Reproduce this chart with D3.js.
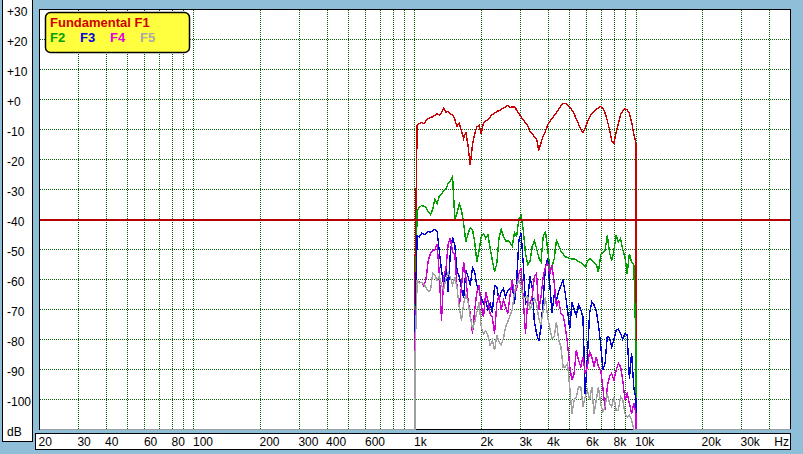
<!DOCTYPE html>
<html><head><meta charset="utf-8">
<script src="https://cdn.jsdelivr.net/npm/d3@7"></script>
<style>
html,body{margin:0;padding:0;background:#8ebed8;overflow:hidden;}
svg{display:block;}
.lab{font-family:"Liberation Sans Narrow","Arial Narrow","Liberation Sans",Arial,sans-serif;font-size:12px;fill:#000;}
.leg{font-family:"Liberation Sans",Arial,sans-serif;font-size:13px;font-weight:bold;}
</style></head><body>
<svg id="c" width="803" height="454"></svg>
<script>
// ---------- data ----------
const freqs=[1000,1023,1047,1072,1096,1122,1148,1175,1202,1230,
1259,1288,1318,1349,1380,1413,1445,1479,1514,1549,
1585,1622,1660,1698,1738,1778,1820,1862,1905,1950,
1995,2042,2089,2138,2188,2239,2291,2344,2399,2455,
2512,2570,2630,2692,2754,2818,2884,2951,3020,3090,
3162,3236,3311,3388,3467,3548,3631,3715,3802,3890,
3981,4074,4169,4266,4365,4467,4571,4677,4786,4898,
5012,5129,5248,5370,5495,5623,5754,5888,6026,6166,
6310,6457,6607,6761,6918,7079,7244,7413,7586,7762,
7943,8128,8318,8511,8710,8913,9120,9333,9550,9772,
10000];

const F1=[-56,-8.6,-8.0,-7.7,-8.0,-7.1,-6.4,-6.0,-5.8,-5.3,
-4.7,-5.1,-4.4,-2.9,-4.2,-4.0,-4.9,-4.9,-6.7,-8.9,
-8.0,-10.4,-13.0,-10.8,-15.5,-21.8,-15.0,-11.5,-9.2,-8.5,
-11.5,-7.7,-7.2,-6.6,-5.8,-5.0,-4.5,-4.0,-3.7,-3.3,
-2.9,-2.4,-2.0,-2.6,-2.5,-2.4,-3.5,-4.7,-5.8,-6.7,
-7.8,-8.8,-10.5,-11.3,-12.5,-13.0,-17.0,-14.5,-12.2,-10.6,
-8.7,-7.3,-6.3,-5.4,-4.3,-3.2,-2.2,-1.4,-1.3,-1.8,
-2.5,-3.5,-4.8,-6.5,-8.2,-10.0,-11.0,-9.5,-7.5,-5.9,
-4.7,-3.9,-3.3,-2.8,-2.3,-3.0,-4.5,-7.0,-10.0,-13.8,
-14.5,-11.0,-8.0,-5.0,-3.9,-3.0,-3.4,-4.7,-7.5,-11.5,
-14.7];

const F2=[-71.4,-36.9,-36.0,-35.3,-35.6,-36.0,-37.4,-38.3,-36.7,-33.3,
-34.7,-32.2,-31.6,-30.4,-29.7,-28.0,-27.1,-25.6,-40.2,-37.8,
-34.7,-36.9,-41.3,-47.4,-44.7,-42.7,-43.3,-47.4,-54.1,-50.2,
-45.6,-44.7,-46.3,-45.2,-49.7,-53.6,-57.4,-54.7,-46.3,-43.3,
-45.6,-47.1,-47.1,-47.8,-48.9,-44.4,-45.6,-39.7,-38.8,-43.6,
-51.3,-55.0,-54.1,-49.1,-47.1,-49.7,-52.7,-54.1,-45.8,-43.9,
-49.7,-56.3,-55.8,-53.0,-46.9,-48.6,-50.5,-51.5,-52.5,-52.6,
-53.0,-53.2,-53.1,-53.5,-54.0,-54.3,-55.0,-55.9,-54.0,-53.1,
-53.5,-54.5,-55.0,-57.6,-52.0,-51.0,-50.3,-45.3,-51.0,-53.7,
-50.3,-45.3,-47.5,-46.4,-50.0,-52.5,-58.1,-51.4,-54.2,-55.0,
-83];

const F3=[-72.6,-45.5,-45.8,-44.5,-45.0,-44.8,-44.0,-44.2,-43.8,-43.3,
-44.0,-50.5,-57.0,-62.0,-56.0,-64.0,-51.0,-46.0,-48.5,-57.0,
-59.0,-63.0,-66.0,-57.0,-59.0,-62.0,-56.0,-57.5,-62.0,-63.5,
-66.0,-68.0,-67.0,-70.0,-68.0,-71.0,-62.0,-62.4,-66.9,-64.1,
-63.0,-65.8,-63.6,-63.0,-61.9,-68.0,-60.2,-47.0,-44.5,-55.0,
-68.0,-67.0,-59.0,-62.5,-74.0,-78.0,-80.5,-76.0,-67.0,-56.0,
-53.0,-62.0,-71.0,-65.0,-67.0,-64.0,-62.0,-60.3,-64.8,-70.0,
-76.5,-67.5,-70.0,-72.0,-68.5,-70.0,-72.5,-98.0,-86.0,-71.0,
-67.5,-68.5,-70.5,-75.0,-81.5,-90.0,-88.0,-79.0,-79.5,-82.5,
-80.0,-77.0,-76.5,-78.0,-80.0,-78.0,-78.5,-93.0,-84.5,-96.0,
-100];

const F4=[-79.2,-60.3,-60.9,-60.9,-62.3,-59.8,-53.7,-51.4,-50.3,-50.1,
-48.1,-58.1,-73.7,-59.2,-56.4,-48.1,-46.1,-50.9,-51.4,-62.6,
-69.2,-62.6,-54.2,-59.2,-67.0,-71.4,-78.1,-70.3,-64.2,-62.0,
-68.7,-72.6,-64.2,-67.0,-71.4,-72.6,-78.1,-68.0,-65.2,-70.2,
-66.9,-69.1,-71.3,-65.2,-60.2,-64.7,-63.0,-58.0,-56.3,-66.9,
-78.0,-66.9,-68.0,-65.8,-59.1,-58.0,-70.2,-65.8,-59.1,-55.8,
-54.7,-58.0,-55.2,-61.3,-69.1,-66.9,-71.3,-71.9,-75.8,-81.3,
-89.1,-93.6,-91.3,-83.6,-86.9,-89.1,-85.8,-91.3,-89.1,-84.1,
-85.8,-89.1,-85.8,-89.1,-90.2,-95.8,-103.6,-95.8,-92.4,-91.3,
-93.6,-90.2,-88.0,-89.1,-93.6,-100.2,-98.0,-101.3,-104.7,-101.3,
-104.7];

const F5=[-86.4,-60.3,-61.2,-60.9,-61.4,-62.8,-63.9,-63.7,-57.9,-58.7,
-60.3,-58.7,-62.0,-63.4,-59.8,-57.6,-59.2,-61.7,-59.2,-62.6,
-69.2,-73.7,-68.1,-65.0,-67.6,-72.6,-76.4,-74.2,-70.9,-67.6,
-75.9,-78.1,-77.0,-78.7,-82.0,-80.3,-83.6,-78.6,-80.8,-81.9,
-79.7,-75.8,-74.1,-71.9,-70.2,-64.1,-61.9,-60.2,-62.4,-66.3,
-65.8,-65.8,-70.2,-68.0,-66.3,-68.0,-73.0,-75.2,-70.2,-65.8,
-72.4,-76.3,-79.7,-79.1,-74.1,-80.2,-82.4,-89.1,-89.1,-88.0,
-95.8,-104.7,-100.2,-99.1,-95.8,-95.8,-102.4,-99.1,-96.9,-100.2,
-95.8,-104.7,-100.2,-95.8,-101.3,-104.1,-102.4,-98.0,-101.3,-102.4,
-99.1,-103.6,-103.6,-99.1,-100.2,-104.7,-105.8,-105.2,-106.9,-110,
-110];

const seriesNames=["Fundamental F1","F2","F3","F4","F5"];
const seriesColors=["#c80000","#00a000","#0000d0","#d000d0","#a0a0a0"];
const legendColors=["#d00000","#00a000","#0000e0","#e000e0","#a8a8a8"];

const yTickVals=[30,20,10,0,-10,-20,-30,-40,-50,-60,-70,-80,-90,-100];
const yTickLabels=["+30","+20","+10","+0","-10","-20","-30","-40","-50","-60","-70","-80","-90","-100"];
const xTickVals=[20,30,40,60,80,100,200,300,400,600,1000,2000,3000,4000,6000,8000,10000,20000,30000];
const xTickLabels=["20","30","40","60","80","100","200","300","400","600","1k","2k","3k","4k","6k","8k","10k","20k","30k"];
const xGridVals=[30,40,50,60,70,80,90,100,200,300,400,500,600,700,800,900,1000,2000,3000,4000,5000,6000,7000,8000,9000,10000,20000,30000,40000];
const yGridVals=[20,10,0,-10,-20,-30,-40,-50,-60,-70,-80,-90,-100];
const FLOOR=-110, REF=-40, FMIN=20, FMAX=50000, DBMAX=30;

// ---------- drawing ----------
const svg=d3.select("#c");
const x=d3.scaleLog().domain([FMIN,FMAX]).range([39.5,790.5]);
const y=d3.scaleLinear().domain([DBMAX,FLOOR]).range([9.5,429.5]);

// left axis panel
svg.append("rect").attr("x",2.5).attr("y",-2).attr("width",30).attr("height",443.5)
  .attr("fill","#fff").attr("stroke","#000");
// bottom axis panel
svg.append("rect").attr("x",35.5).attr("y",433.5).attr("width",755).attr("height",16)
  .attr("fill","#fff").attr("stroke","#000");
// plot bg
svg.append("rect").attr("x",39.5).attr("y",9.5).attr("width",751).attr("height",420)
  .attr("fill","#fff").attr("stroke","#000").attr("shape-rendering","crispEdges");

const grid=svg.append("g").attr("stroke","#006000").attr("stroke-dasharray","1,1").attr("shape-rendering","crispEdges");
grid.selectAll("line.h").data(yGridVals).join("line").attr("class","h")
  .attr("x1",40).attr("x2",790).attr("y1",d=>y(d)).attr("y2",d=>y(d));
grid.selectAll("line.v").data(xGridVals).join("line").attr("class","v")
  .attr("y1",10).attr("y2",429).attr("x1",d=>Math.round(x(d)-0.5)+0.5).attr("x2",d=>Math.round(x(d)-0.5)+0.5);

// y labels
svg.selectAll("text.yl").data(yTickVals).join("text").attr("class","lab yl")
  .attr("x",7).attr("y",d=>y(d)+6).text((d,i)=>yTickLabels[i]);
svg.append("text").attr("class","lab").attr("x",7).attr("y",436).text("dB");
// x labels
svg.selectAll("text.xl").data(xTickVals).join("text").attr("class","lab xl")
  .attr("x",d=>x(d)-1).attr("y",446).text((d,i)=>xTickLabels[i]);
svg.append("text").attr("class","lab").attr("x",789).attr("y",446).attr("text-anchor","end").text("Hz");

// traces
const plot=svg.append("g");
const line=d3.line().x(d=>x(d[0])).y(d=>y(d[1]));
[F1,F2,F3,F4,F5].forEach((vals,k)=>{
  const pts=[[FMIN,FLOOR],[freqs[0],FLOOR]]
    .concat(freqs.map((f,i)=>[f,vals[i]]))
    .concat([[freqs[freqs.length-1],FLOOR],[FMAX,FLOOR]]);
  plot.append("path").attr("d",line(pts)).attr("fill","none")
    .attr("stroke",seriesColors[k]).attr("stroke-width",1.4).attr("stroke-linejoin","miter")
    .attr("shape-rendering","crispEdges");
});

// reference line at -40 dB
svg.append("line").attr("x1",40).attr("x2",790).attr("y1",y(REF)).attr("y2",y(REF))
  .attr("stroke","#b40000").attr("stroke-width",2).attr("shape-rendering","crispEdges");

// legend
svg.append("rect").attr("x",45.5).attr("y",12.5).attr("width",144).attr("height",40).attr("rx",5)
  .attr("fill","#ffff40").attr("stroke","#000").attr("stroke-width",1.5);
svg.append("text").attr("class","leg").attr("x",50).attr("y",27).attr("fill",legendColors[0]).text(seriesNames[0]);
const legX=[50,80,110,140];
seriesNames.slice(1).forEach((n,i)=>{
  svg.append("text").attr("class","leg").attr("x",legX[i]).attr("y",42).attr("fill",legendColors[i+1]).text(n);
});
</script>
</body></html>
